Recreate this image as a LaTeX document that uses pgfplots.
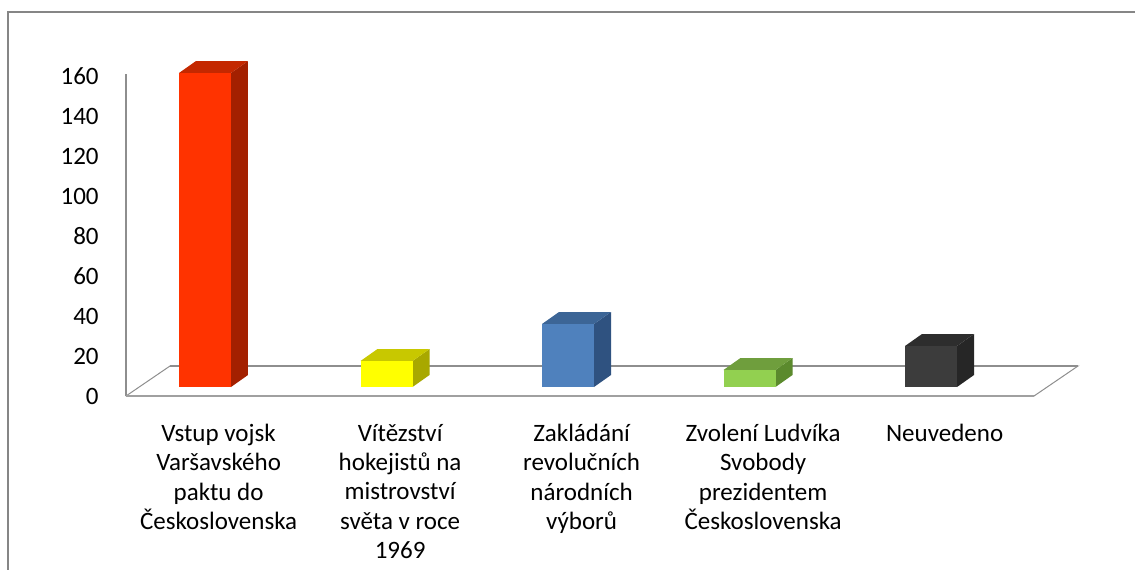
\documentclass[border=0pt]{standalone}
\usepackage{pgfplots}
\pgfplotsset{compat=1.18}
\usepackage{pgfplotstable}
\usepackage{fontspec}
\setmainfont{Carlito}
\definecolor{redF}{HTML}{FF3300}\definecolor{redS}{HTML}{A32000}\definecolor{redT}{HTML}{C42800}
\definecolor{yelF}{HTML}{FFFF00}\definecolor{yelS}{HTML}{A8A800}\definecolor{yelT}{HTML}{C8C800}
\definecolor{bluF}{HTML}{4F81BD}\definecolor{bluS}{HTML}{2F5280}\definecolor{bluT}{HTML}{3C6596}
\definecolor{grnF}{HTML}{92D050}\definecolor{grnS}{HTML}{5B8A2D}\definecolor{grnT}{HTML}{6F9E3D}
\definecolor{blkF}{HTML}{3C3C3C}\definecolor{blkS}{HTML}{262626}\definecolor{blkT}{HTML}{2D2D2D}
\definecolor{framec}{HTML}{868686}
\definecolor{floorc}{HTML}{8E8E8E}
\definecolor{floorf}{HTML}{A0A0A0}
% bar side and top faces (oblique 3D look), computed from the bar value
\newcommand\sidetop[4]{%
  \pgfmathsetmacro\xl{#1-0.14325}%
  \pgfmathsetmacro\xr{#1+0.14325}%
  \pgfmathsetmacro\xrr{#1+0.14325+0.09366}%
  \pgfmathsetmacro\xlr{#1-0.14325+0.09366}%
  \pgfmathsetmacro\vt{#2+6}%
  \edef\temp{%
    \noexpand\addplot[fill=#3,draw=none] coordinates {(\xr,0) (\xrr,6) (\xrr,\vt) (\xr,#2)};
    \noexpand\addplot[fill=#4,draw=none] coordinates {(\xl,#2) (\xlr,\vt) (\xrr,\vt) (\xr,#2)};
  }\temp}
\begin{document}
\begin{tikzpicture}
\begin{axis}[
  x=90.75pt, y=1pt,
  xmin=-0.43526, xmax=5, ymin=-4.5, ymax=156.5,
  clip=false,
  axis x line*=bottom, axis y line*=left,
  x axis line style={draw=none},
  y axis line style={draw=floorc, line width=1pt},
  major tick length=0pt,
  tick style={draw=none},
  /pgf/number format/assume math mode=true,
  ytick={-4.5,15.5,35.5,55.5,75.5,95.5,115.5,135.5,155.5},
  yticklabels={0,20,40,60,80,100,120,140,160},
  yticklabel style={font=\fontsize{12.5pt}{14.6pt}\selectfont, anchor=east, inner sep=0pt, xshift=-13.5pt},
  xtick={0.075,1.075,2.075,3.075,4.075},
  xticklabels={{Vstup vojsk\\Varšavského\\paktu do\\Československa},
               {Vítězství\\hokejistů na\\mistrovství\\světa v roce\\1969},
               {Zakládání\\revolučních\\národních\\výborů},
               {Zvolení Ludvíka\\Svobody\\prezidentem\\Československa},
               {Neuvedeno}},
  xticklabel style={font=\fontsize{12.5pt}{14.6pt}\selectfont, anchor=north, align=center, inner sep=0pt, yshift=-14pt},
]
% floor
\addplot[fill=white, draw=floorc, line width=0.5pt] coordinates {(-0.43526,-4.5) (-0.19284,10.5) (4.8099,10.5) (4.5675,-4.5) (-0.43526,-4.5)};
\addplot[draw=floorc, line width=1pt] coordinates {(-0.19284,10.5) (4.8099,10.5)};
\addplot[draw=floorf, line width=1.2pt] coordinates {(-0.43526,-4.5) (4.5675,-4.5)};
% bars: side, top, front
\sidetop{0}{157}{redS}{redT}
\addplot[ybar, bar width=0.2865, bar shift=0pt, fill=redF, draw=none] coordinates {(0,157)};
\sidetop{1}{13}{yelS}{yelT}
\addplot[ybar, bar width=0.2865, bar shift=0pt, fill=yelF, draw=none] coordinates {(1,13)};
\sidetop{2}{31.5}{bluS}{bluT}
\addplot[ybar, bar width=0.2865, bar shift=0pt, fill=bluF, draw=none] coordinates {(2,31.5)};
\sidetop{3}{8.5}{grnS}{grnT}
\addplot[ybar, bar width=0.2865, bar shift=0pt, fill=grnF, draw=none] coordinates {(3,8.5)};
\sidetop{4}{20.5}{blkS}{blkT}
\addplot[ybar, bar width=0.2865, bar shift=0pt, fill=blkF, draw=none] coordinates {(4,20.5)};
% chart frame
\draw[framec, line width=1pt] (axis cs:-1.0854,-120) -- (axis cs:-1.0854,187.5) -- (axis cs:5.3,187.5);
\coordinate (BL) at (axis cs:-1.12948,-91);
\coordinate (TR) at (axis cs:5.12397,193.5);
\end{axis}
\pgfresetboundingbox
\path[use as bounding box] (BL) rectangle (TR);
\end{tikzpicture}
\end{document}
